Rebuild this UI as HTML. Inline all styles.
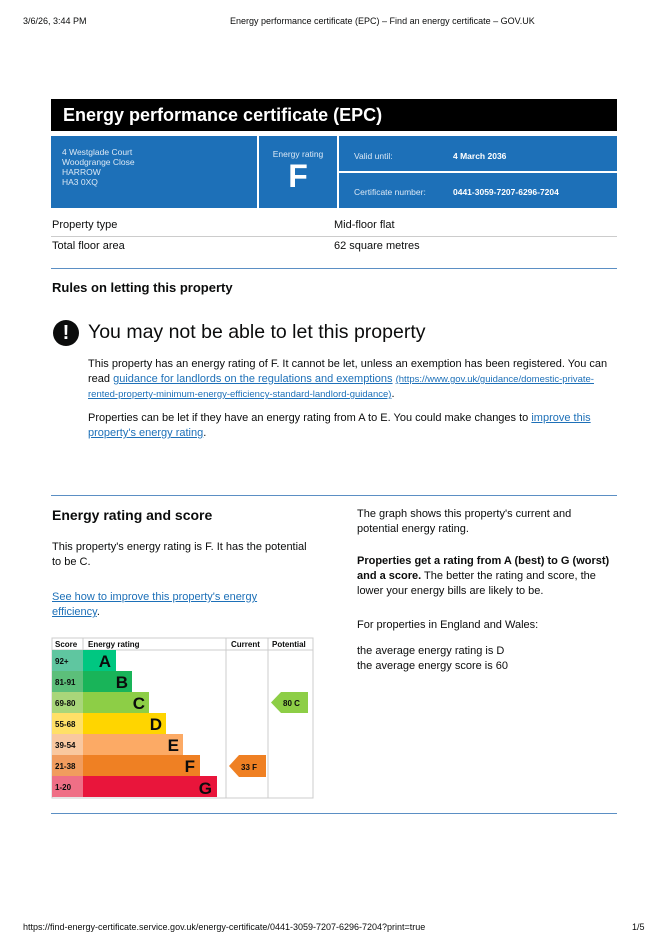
<!DOCTYPE html>
<html><head><meta charset="utf-8"><style>
body{margin:0;width:670px;height:948px;background:#fff;font-family:"Liberation Sans",Arial,sans-serif;color:#0b0c0c;position:relative;overflow:hidden}
.a{position:absolute;white-space:nowrap}
.s{font-size:11px;line-height:15px}
a,.l{color:#1d70b8;text-decoration:underline}
.w{color:#fff}
</style></head><body>
<div class="a" style="left:23px;top:16px;font-size:9px">3/6/26, 3:44 PM</div>
<div class="a" style="left:230px;top:16px;font-size:9px">Energy performance certificate (EPC) – Find an energy certificate – GOV.UK</div>

<div class="a" style="left:51px;top:99px;width:566px;height:32px;background:#000"></div>
<div class="a w" style="left:63px;top:105px;font-size:18px;font-weight:bold">Energy performance certificate (EPC)</div>
<div class="a" style="left:51px;top:136px;width:206px;height:72px;background:#1d70b8"></div>
<div class="a" style="left:259px;top:136px;width:78px;height:72px;background:#1d70b8"></div>
<div class="a" style="left:339px;top:136px;width:278px;height:35px;background:#1d70b8"></div>
<div class="a" style="left:339px;top:173px;width:278px;height:35px;background:#1d70b8"></div>
<div class="a w" style="left:62px;top:147px;font-size:8.5px;line-height:10px;color:#dbe8f5">4 Westglade Court<br>Woodgrange Close<br>HARROW<br>HA3 0XQ</div>
<div class="a w" style="left:259px;width:78px;text-align:center;top:149px;font-size:8.5px;color:#dbe8f5">Energy rating</div>
<div class="a w" style="left:259px;width:78px;text-align:center;top:158px;font-size:32px;font-weight:bold">F</div>
<div class="a w" style="left:354px;top:151px;font-size:8.5px;color:#dbe8f5">Valid until:</div>
<div class="a w" style="left:453px;top:151px;font-size:8.5px;font-weight:bold">4 March 2036</div>
<div class="a w" style="left:354px;top:187px;font-size:8.5px;color:#dbe8f5">Certificate number:</div>
<div class="a w" style="left:453px;top:187px;font-size:8.5px;font-weight:bold">0441-3059-7207-6296-7204</div>

<div class="a s" style="left:52px;top:218px">Property type</div>
<div class="a s" style="left:334px;top:218px">Mid-floor flat</div>
<div class="a" style="left:51px;top:236px;width:566px;height:1px;background:#ccc"></div>
<div class="a s" style="left:52px;top:239px">Total floor area</div>
<div class="a s" style="left:334px;top:239px">62 square metres</div>
<div class="a" style="left:51px;top:268px;width:566px;height:1px;background:#5b8fc4"></div>

<div class="a" style="left:52px;top:280px;font-size:13px;font-weight:bold">Rules on letting this property</div>
<div class="a" style="left:53px;top:320px;width:26px;height:26px;border-radius:50%;background:#0b0c0c;color:#fff;text-align:center;font-weight:bold;font-size:20px;line-height:26px">!</div>
<div class="a" style="left:88px;top:321px;font-size:19.5px">You may not be able to let this property</div>
<div class="a s" style="left:88px;top:357px">This property has an energy rating of F. It cannot be let, unless an exemption has been registered. You can<br>read <span class="l">guidance for landlords on the regulations and exemptions</span> <span class="l" style="font-size:9.5px">(https://www.gov.uk/guidance/domestic-private-</span><br><span class="l" style="font-size:9.5px">rented-property-minimum-energy-efficiency-standard-landlord-guidance)</span>.</div>
<div class="a s" style="left:88px;top:411px">Properties can be let if they have an energy rating from A to E. You could make changes to <span class="l">improve this</span><br><span class="l">property's energy rating</span>.</div>
<div class="a" style="left:51px;top:495px;width:566px;height:1px;background:#5b8fc4"></div>

<div class="a" style="left:52px;top:507px;font-size:14px;font-weight:bold">Energy rating and score</div>
<div class="a s" style="left:52px;top:540px">This property's energy rating is F. It has the potential<br>to be C.</div>
<div class="a s" style="left:52px;top:590px"><span class="l">See how to improve this property's energy</span><br><span class="l">efficiency</span>.</div>
<div class="a s" style="left:357px;top:507px">The graph shows this property's current and<br>potential energy rating.</div>
<div class="a s" style="left:357px;top:554px"><b>Properties get a rating from A (best) to G (worst)<br>and a score.</b> The better the rating and score, the<br>lower your energy bills are likely to be.</div>
<div class="a s" style="left:357px;top:618px">For properties in England and Wales:</div>
<div class="a s" style="left:357px;top:644px">the average energy rating is D<br>the average energy score is 60</div>

<svg class="a" style="left:0;top:0" width="670" height="948" font-family="Liberation Sans,Arial,sans-serif">
<rect x="52" y="638" width="261" height="160" fill="none" stroke="#ccc"/>
<line x1="52" y1="650" x2="313" y2="650" stroke="#ccc"/>
<line x1="83" y1="638" x2="83" y2="650" stroke="#ccc"/>
<line x1="226" y1="638" x2="226" y2="798" stroke="#ccc"/>
<line x1="268" y1="638" x2="268" y2="798" stroke="#ccc"/>
<g font-size="8" font-weight="bold" fill="#0b0c0c">
<text x="55" y="647">Score</text><text x="88" y="647">Energy rating</text>
<text x="231" y="647">Current</text><text x="272" y="647">Potential</text></g>
<g font-weight="bold">
<rect x="52" y="650" width="31" height="21" fill="#5fc6a0"/><rect x="83" y="650" width="33" height="21" fill="#00c781"/>
<rect x="52" y="671" width="31" height="21" fill="#5cbf7a"/><rect x="83" y="671" width="49" height="21" fill="#19b459"/>
<rect x="52" y="692" width="31" height="21" fill="#a9d67a"/><rect x="83" y="692" width="66" height="21" fill="#8dce46"/>
<rect x="52" y="713" width="31" height="21" fill="#ffe067"/><rect x="83" y="713" width="83" height="21" fill="#ffd500"/>
<rect x="52" y="734" width="31" height="21" fill="#f9c8a0"/><rect x="83" y="734" width="100" height="21" fill="#fcaa65"/>
<rect x="52" y="755" width="31" height="21" fill="#f19c5e"/><rect x="83" y="755" width="117" height="21" fill="#ef8023"/>
<rect x="52" y="776" width="31" height="21" fill="#ef6f86"/><rect x="83" y="776" width="134" height="21" fill="#e9153b"/>
<g font-size="8" fill="#0b0c0c">
<text x="55" y="664">92+</text><text x="55" y="685">81-91</text><text x="55" y="706">69-80</text><text x="55" y="727">55-68</text><text x="55" y="748">39-54</text><text x="55" y="769">21-38</text><text x="55" y="790">1-20</text></g>
<g font-size="17" fill="#0b0c0c" text-anchor="end">
<text x="111" y="667">A</text><text x="128" y="688">B</text><text x="145" y="709">C</text><text x="162" y="730">D</text><text x="179" y="751">E</text><text x="195" y="772">F</text><text x="212" y="794">G</text></g>
<polygon points="271,702.5 281,692 308,692 308,713 281,713" fill="#8dce46"/>
<text x="283" y="706" font-size="8" fill="#0b0c0c">80  C</text>
<polygon points="229,766 239,755 266,755 266,777 239,777" fill="#ef8023"/>
<text x="241" y="770" font-size="8" fill="#0b0c0c">33  F</text>
</g>
</svg>
<div class="a" style="left:51px;top:813px;width:566px;height:1px;background:#5b8fc4"></div>
<div class="a" style="left:23px;top:922px;font-size:9px">https://find-energy-certificate.service.gov.uk/energy-certificate/0441-3059-7207-6296-7204?print=true</div>
<div class="a" style="left:632px;top:922px;font-size:9px">1/5</div>
</body></html>
